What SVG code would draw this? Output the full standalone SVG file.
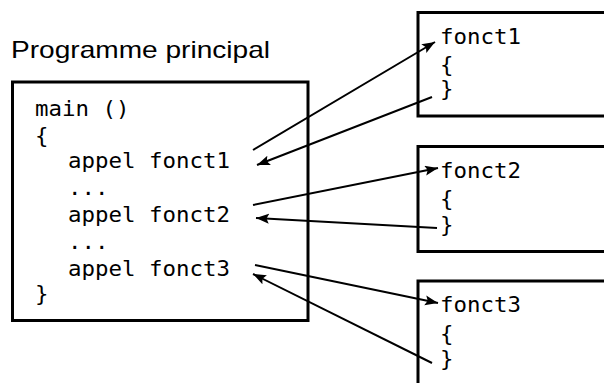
<svg xmlns="http://www.w3.org/2000/svg" width="604" height="383" viewBox="0 0 604 383">
<style>
.box{fill:#fff;stroke:#000;stroke-width:3}
.code{font-family:"DejaVu Sans Mono","Liberation Mono",monospace;font-size:21px;fill:#000}
.title{font-family:"Liberation Sans",Arial,sans-serif;font-size:24px;fill:#000}
.conn line{stroke:#000;stroke-width:2;marker-end:url(#ah)}
</style>
<defs>
<marker id="ah" markerUnits="userSpaceOnUse" markerWidth="14" markerHeight="12" refX="13" refY="5" orient="auto">
<path d="M0,0 L13,5 L0,10 L2.5,5 z" fill="#000"/>
</marker>
</defs>
<rect width="604" height="383" fill="#fff"/>
<text class="title" x="11" y="58" textLength="259" lengthAdjust="spacingAndGlyphs">Programme principal</text>
<g id="main">
<rect class="box" x="12.5" y="82" width="295.5" height="238.5"/>
<text class="code" x="35" y="116" textLength="94.5" lengthAdjust="spacingAndGlyphs">main ()</text>
<text class="code" x="35" y="143" textLength="13.5" lengthAdjust="spacingAndGlyphs">{</text>
<text class="code" x="68" y="168" textLength="162" lengthAdjust="spacingAndGlyphs">appel fonct1</text>
<text class="code" x="68" y="195" textLength="40.5" lengthAdjust="spacingAndGlyphs">...</text>
<text class="code" x="68" y="222" textLength="162" lengthAdjust="spacingAndGlyphs">appel fonct2</text>
<text class="code" x="68" y="249" textLength="40.5" lengthAdjust="spacingAndGlyphs">...</text>
<text class="code" x="68" y="276" textLength="162" lengthAdjust="spacingAndGlyphs">appel fonct3</text>
<text class="code" x="35" y="301" textLength="13.5" lengthAdjust="spacingAndGlyphs">}</text>
</g>
<g id="fonct1">
<rect class="box" x="418" y="12.5" width="210" height="103.5"/>
<text class="code" x="440" y="44" textLength="81" lengthAdjust="spacingAndGlyphs">fonct1</text>
<text class="code" x="440" y="72" textLength="13.5" lengthAdjust="spacingAndGlyphs">{</text>
<text class="code" x="440" y="96" textLength="13.5" lengthAdjust="spacingAndGlyphs">}</text>
</g>
<g id="fonct2">
<rect class="box" x="418" y="146.5" width="210" height="105"/>
<text class="code" x="440" y="178" textLength="81" lengthAdjust="spacingAndGlyphs">fonct2</text>
<text class="code" x="440" y="206" textLength="13.5" lengthAdjust="spacingAndGlyphs">{</text>
<text class="code" x="440" y="232" textLength="13.5" lengthAdjust="spacingAndGlyphs">}</text>
</g>
<g id="fonct3">
<rect class="box" x="418" y="281" width="210" height="120"/>
<text class="code" x="440" y="312" textLength="81" lengthAdjust="spacingAndGlyphs">fonct3</text>
<text class="code" x="440" y="341" textLength="13.5" lengthAdjust="spacingAndGlyphs">{</text>
<text class="code" x="440" y="366" textLength="13.5" lengthAdjust="spacingAndGlyphs">}</text>
</g>
<g id="connectors" class="conn">
<line x1="253" y1="150" x2="435" y2="42"/>
<line x1="432" y1="97" x2="257" y2="165"/>
<line x1="253" y1="205" x2="438" y2="168"/>
<line x1="437" y1="228" x2="256" y2="218"/>
<line x1="255" y1="265" x2="438" y2="303"/>
<line x1="432" y1="363" x2="253" y2="274"/>
</g>
</svg>
